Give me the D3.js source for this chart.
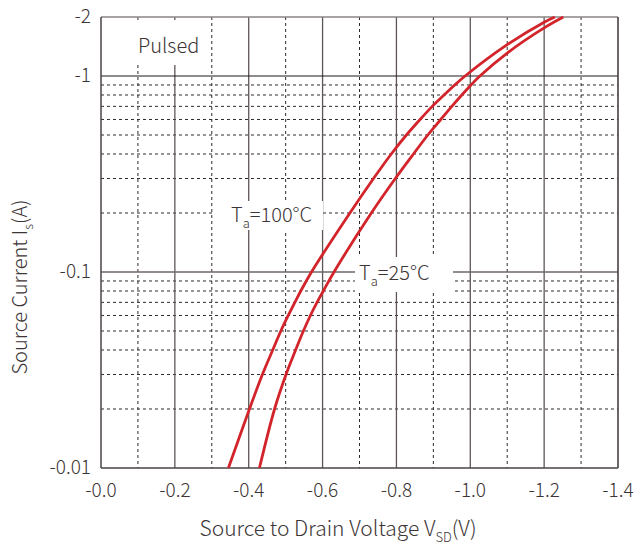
<!DOCTYPE html>
<html><head>
<meta charset="utf-8">
<title>Source Current vs Source to Drain Voltage</title>
<script src="https://d3js.org/d3.v7.min.js"></script>
<style>
  body { margin: 0; background: #fff; }
  text { font-family: "Noto Sans CJK SC", "Noto Sans", sans-serif; font-weight: 300; fill: #3c3535; }
</style>
</head>
<body>
<div id="container" style="width: 635px; height: 545px;"></div>
<script>

// DATA (magnitudes, drawn with minus signs on the axes)
const vsd100 = [0.345, 0.402, 0.437, 0.465, 0.487, 0.507, 0.525, 0.541, 0.570, 0.674, 0.738, 0.786, 0.827, 0.864, 0.897, 0.929, 0.958, 0.986, 1.099, 1.200, 1.229];
const is100  = [0.01, 0.02, 0.03, 0.04, 0.05, 0.06, 0.07, 0.08, 0.10, 0.20, 0.30, 0.40, 0.50, 0.60, 0.70, 0.80, 0.90, 1.00, 1.44, 1.88, 2.00];
const vsd25  = [0.429, 0.470, 0.501, 0.527, 0.548, 0.567, 0.585, 0.602, 0.631, 0.732, 0.797, 0.846, 0.885, 0.920, 0.950, 0.977, 1.002, 1.026, 1.100, 1.200, 1.252];
const is25   = [0.01, 0.02, 0.03, 0.04, 0.05, 0.06, 0.07, 0.08, 0.10, 0.20, 0.30, 0.40, 0.50, 0.60, 0.70, 0.80, 0.90, 1.00, 1.31, 1.76, 2.00];

const xTicks = [0, 0.2, 0.4, 0.6, 0.8, 1.0, 1.2, 1.4];
const xMinor = [0.1, 0.3, 0.5, 0.7, 0.9, 1.1, 1.3];
const yTicks = [0.01, 0.1, 1, 2];
const yTickLabels = ["-0.01", "-0.1", "-1", "-2"];
const yMinor = [0.02, 0.03, 0.04, 0.05, 0.06, 0.07, 0.08, 0.09, 0.2, 0.3, 0.4, 0.5, 0.6, 0.7, 0.8, 0.9];

const width = 635, height = 545;
const margin = { top: 17, right: 17, bottom: 77, left: 101 };
const chartWidth = width - margin.left - margin.right;
const chartHeight = height - margin.top - margin.bottom;

const svg = d3.select("#container").append("svg")
              .attr("width", width)
              .attr("height", height);
const plot = svg.append("g").attr("transform", "translate(" + margin.left + "," + margin.top + ")");

const xScale = d3.scaleLinear().domain([0, 1.4]).range([0, chartWidth]);
const yScale = d3.scaleLog().domain([0.01, 2]).range([chartHeight, 0]);

// minor dashed grid
plot.selectAll("line.vminor").data(xMinor).join("line").attr("class", "vminor")
    .attr("x1", d => xScale(d)).attr("x2", d => xScale(d))
    .attr("y1", 0).attr("y2", chartHeight)
    .attr("stroke", "#2e2a2a").attr("stroke-width", 1).attr("stroke-dasharray", "3,3");
plot.selectAll("line.hminor").data(yMinor).join("line").attr("class", "hminor")
    .attr("x1", 0).attr("x2", chartWidth)
    .attr("y1", d => yScale(d)).attr("y2", d => yScale(d))
    .attr("stroke", "#2e2a2a").attr("stroke-width", 1).attr("stroke-dasharray", "3,3");

// major solid grid
plot.selectAll("line.vmajor").data(xTicks.slice(1, -1)).join("line").attr("class", "vmajor")
    .attr("x1", d => xScale(d)).attr("x2", d => xScale(d))
    .attr("y1", 0).attr("y2", chartHeight)
    .attr("stroke", "#5e5656").attr("stroke-width", 1.3);
plot.append("line")
    .attr("x1", 0).attr("x2", chartWidth).attr("y1", yScale(0.1)).attr("y2", yScale(0.1))
    .attr("stroke", "#6e6666").attr("stroke-width", 1.5);
plot.append("line")
    .attr("x1", 0).attr("x2", chartWidth).attr("y1", yScale(1)).attr("y2", yScale(1))
    .attr("stroke", "#1e1a1a").attr("stroke-width", 1.2);

// frame: top light, others darker
plot.append("line").attr("x1", 0).attr("x2", chartWidth).attr("y1", 0).attr("y2", 0)
    .attr("stroke", "#8a8484").attr("stroke-width", 1.5);
plot.append("line").attr("x1", chartWidth).attr("x2", chartWidth).attr("y1", 0).attr("y2", chartHeight)
    .attr("stroke", "#3a3434").attr("stroke-width", 1.5);
plot.append("line").attr("x1", 0).attr("x2", 0).attr("y1", 0).attr("y2", chartHeight)
    .attr("stroke", "#4a4444").attr("stroke-width", 1.5);
plot.append("line").attr("x1", 0).attr("x2", chartWidth).attr("y1", chartHeight).attr("y2", chartHeight)
    .attr("stroke", "#4a4444").attr("stroke-width", 1.5);

// white boxes behind the in-plot labels
svg.append("rect").attr("x", 128).attr("y", 20).attr("width", 76).attr("height", 45).attr("fill", "#fff");
svg.append("rect").attr("x", 213).attr("y", 201).attr("width", 110).attr("height", 29).attr("fill", "#fff");
svg.append("rect").attr("x", 355).attr("y", 257).attr("width", 98).attr("height", 35).attr("fill", "#fff");

svg.append("text").attr("x", 138).attr("y", 53).attr("font-size", 20).text("Pulsed");

const lab100 = svg.append("text").attr("x", 231).attr("y", 222).attr("font-size", 20);
lab100.append("tspan").text("T");
lab100.append("tspan").attr("font-size", 13).attr("dy", 6).text("a");
lab100.append("tspan").attr("dy", -6).text("=100°C");

const lab25 = svg.append("text").attr("x", 359).attr("y", 280).attr("font-size", 20);
lab25.append("tspan").text("T");
lab25.append("tspan").attr("font-size", 13).attr("dy", 6).text("a");
lab25.append("tspan").attr("dy", -6).text("=25°C");

// tick labels
plot.selectAll("text.xtick").data(xTicks).join("text").attr("class", "xtick")
    .attr("x", d => xScale(d)).attr("y", chartHeight + 29)
    .attr("text-anchor", "middle").attr("font-size", 19)
    .text(d => "-" + d.toFixed(1));
plot.selectAll("text.ytick").data(yTicks).join("text").attr("class", "ytick")
    .attr("x", -10).attr("y", d => yScale(d) + 6)
    .attr("text-anchor", "end").attr("font-size", 19)
    .text((d, i) => yTickLabels[i]);

// axis titles
const xTitle = svg.append("text").attr("x", 338).attr("y", 536)
                  .attr("text-anchor", "middle").attr("font-size", 21);
xTitle.append("tspan").text("Source to Drain Voltage V");
xTitle.append("tspan").attr("font-size", 13).attr("dy", 6).text("SD");
xTitle.append("tspan").attr("dy", -6).text("(V)");

const yTitle = svg.append("text").attr("transform", "translate(27,287) rotate(-90)")
                  .attr("text-anchor", "middle").attr("font-size", 20);
yTitle.append("tspan").text("Source Current I");
yTitle.append("tspan").attr("font-size", 13).attr("dy", 6).text("s");
yTitle.append("tspan").attr("dy", -6).text("(A)");

// curves
const line = d3.line()
               .x(d => xScale(d[0]))
               .y(d => yScale(d[1]))
               .curve(d3.curveCatmullRom);
const series = [d3.zip(vsd100, is100), d3.zip(vsd25, is25)];
plot.selectAll("path.curve").data(series).join("path").attr("class", "curve")
    .attr("d", line)
    .attr("fill", "none")
    .attr("stroke", "#d2242a")
    .attr("stroke-width", 2.8);

</script>
</body>
</html>
